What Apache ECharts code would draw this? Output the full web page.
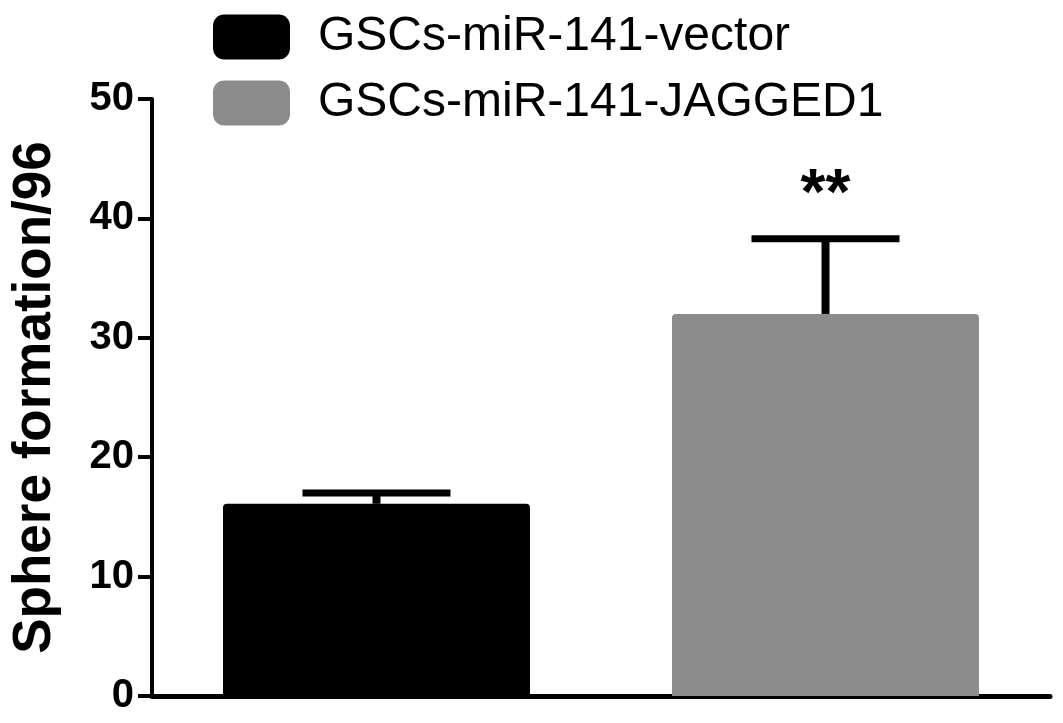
<!DOCTYPE html>
<html>
<head>
<meta charset="utf-8">
<script src="https://cdn.jsdelivr.net/npm/echarts@6/dist/echarts.min.js"></script>
<style>
  html, body { margin: 0; padding: 0; background: #fff; }
  #chart { width: 1063px; height: 723px; }
</style>
</head>
<body>
<div id="chart"></div>
<script>
const groups = ['GSCs-miR-141-vector', 'GSCs-miR-141-JAGGED1']
const means = [16.1, 32.0]
const errTops = [17.0, 38.3]
const marks = ['', '**']
const colors = ['#000000', '#8c8c8c']
const yTicks = { min: 0, max: 50, interval: 10 }

const font = '"Liberation Sans", Arial, sans-serif'

const chart = echarts.init(document.getElementById('chart'))

const barSeries = groups.map((name, i) => ({
  name: name,
  type: 'bar',
  barWidth: 307,
  barGap: '-100%',
  itemStyle: { color: colors[i], borderRadius: [4, 4, 0, 0] },
  data: means.map((v, j) => (j === i ? v : '-'))
}))

// error bars (upper only) + significance stars
const errSeries = {
  type: 'custom',
  silent: true,
  z: 5,
  data: means.map((v, i) => [i, v, errTops[i]]),
  renderItem: (params, api) => {
    const base = api.coord([api.value(0), api.value(1)])
    const top = api.coord([api.value(0), api.value(2)])
    const half = 74
    const children = [
      { type: 'line', shape: { x1: top[0], y1: base[1], x2: top[0], y2: top[1] }, style: { stroke: '#000', lineWidth: 8 } },
      { type: 'line', shape: { x1: top[0] - half, y1: top[1], x2: top[0] + half, y2: top[1] }, style: { stroke: '#000', lineWidth: 7 } }
    ]
    const mark = marks[params.dataIndex]
    if (mark) {
      children.push({
        type: 'text',
        style: {
          x: top[0], y: top[1] - 10,
          text: mark,
          fill: '#000',
          font: 'bold 64px ' + font,
          align: 'center',
          verticalAlign: 'bottom'
        }
      })
    }
    return { type: 'group', children: children }
  }
}

chart.setOption({
  animation: false,
  backgroundColor: '#fff',
  grid: { left: 152, right: 13, top: 99, bottom: 27 },
  legend: {
    orient: 'vertical',
    left: 208,
    top: 8,
    itemWidth: 77,
    itemHeight: 45,
    itemGap: 18,
    icon: 'roundRect',
    data: groups,
    textStyle: { fontSize: 48, color: '#000', fontFamily: font, padding: [0, 0, 0, 23] }
  },
  xAxis: {
    type: 'category',
    data: groups,
    axisLine: { lineStyle: { color: '#000', width: 5 } },
    axisTick: { show: false },
    axisLabel: { show: false }
  },
  yAxis: {
    type: 'value',
    min: yTicks.min,
    max: yTicks.max,
    interval: yTicks.interval,
    name: 'Sphere formation/96',
    nameLocation: 'middle',
    nameGap: 90,
    nameTextStyle: { fontSize: 53, fontWeight: 'bold', color: '#000', fontFamily: font },
    splitLine: { show: false },
    axisLine: { show: true, lineStyle: { color: '#000', width: 4 } },
    axisTick: { show: true, length: 14, lineStyle: { color: '#000', width: 4 } },
    axisLabel: { fontSize: 40, fontWeight: 'bold', color: '#000', fontFamily: font, margin: 18 }
  },
  series: [...barSeries, errSeries]
})
</script>
</body>
</html>
